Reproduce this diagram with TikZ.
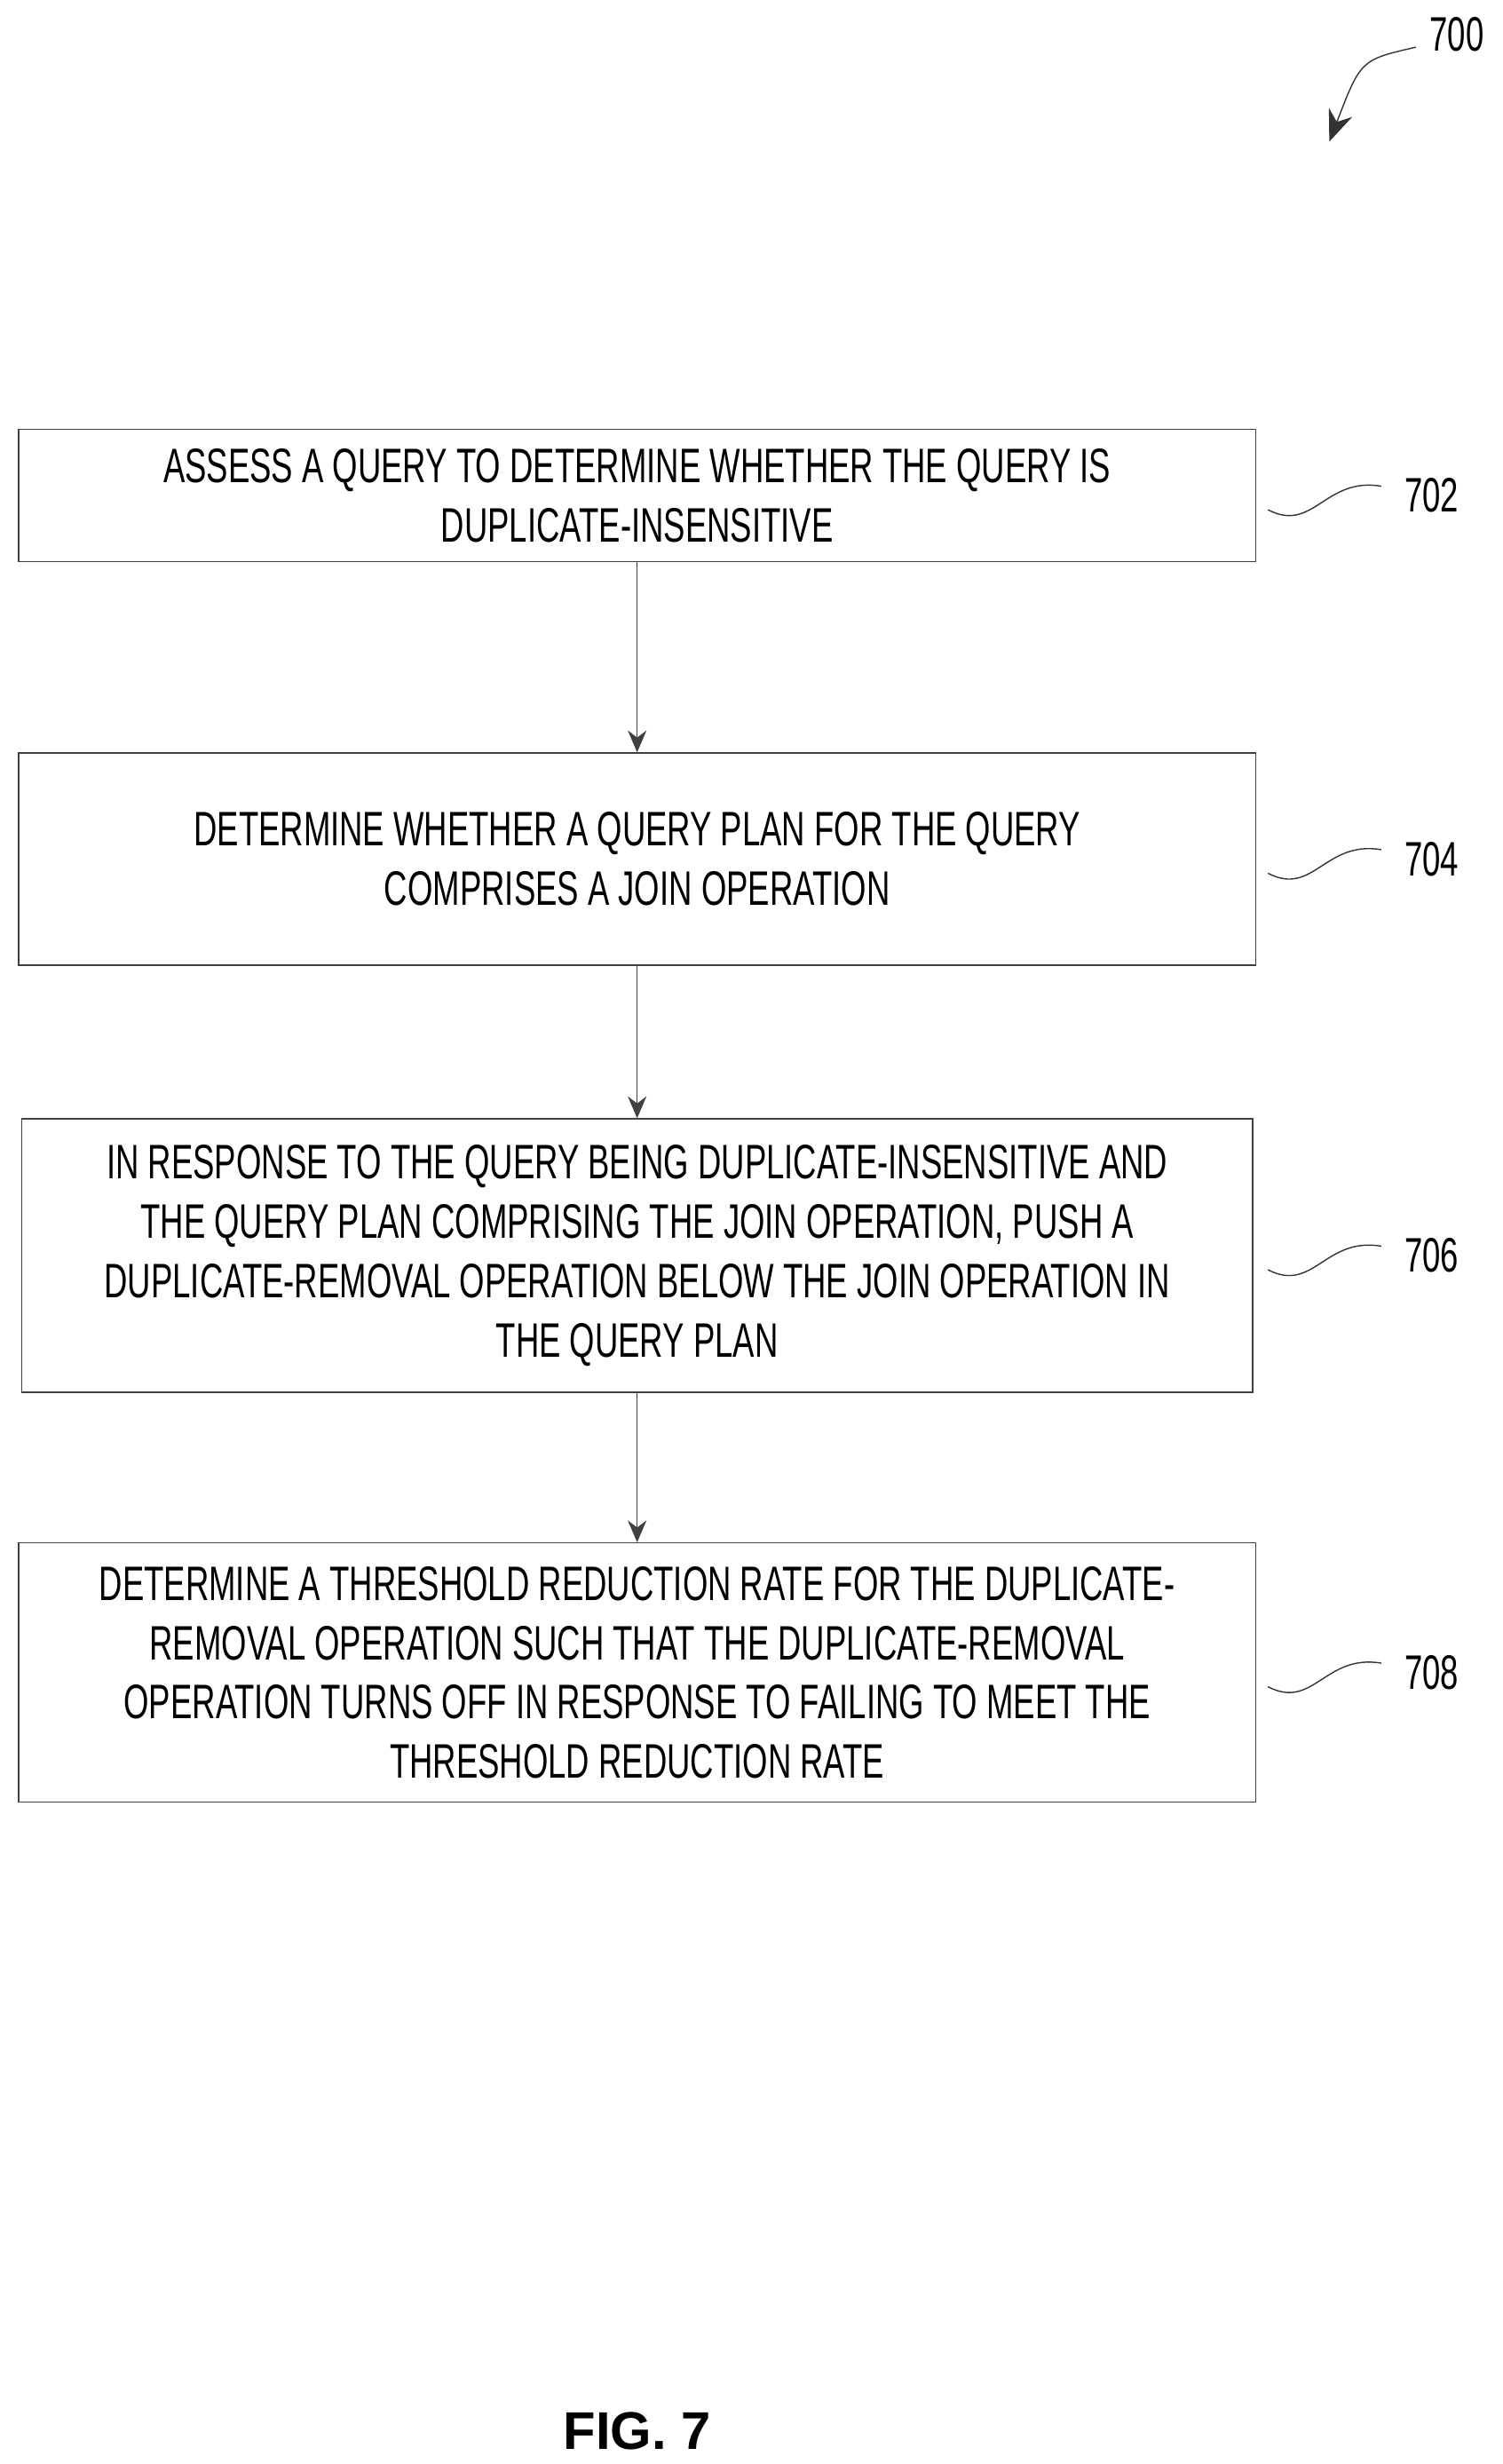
\documentclass[tikz,border=0pt]{standalone}
\usepackage{fontspec}
\setmainfont{Liberation Sans}[FakeStretch=0.67]
\newfontfamily\figfont{Liberation Sans}
\usetikzlibrary{positioning,arrows.meta}
\begin{document}
\begin{tikzpicture}[x=0.01772cm, y=-0.01772cm,
    box/.style = {draw=black!75, thin, minimum width=13.93cm,
                   align=center, font=\fontsize{15.5}{19}\selectfont, inner sep=0pt},
    arrow/.style = {draw=black!75, thin, -{Stealth[length=7pt,width=6pt]}},
    ref/.style = {font=\fontsize{15.5}{18}\selectfont},
    squig/.style = {draw=black!80, thin}]
    \useasboundingbox (0,0) rectangle (955,1566);
    \node[box, minimum height=1.49cm] (s702) at (405,315)
        {ASSESS A QUERY TO DETERMINE WHETHER THE QUERY IS\\DUPLICATE-INSENSITIVE};
    \node[box, minimum height=2.39cm] (s704) at (405,546)
        {DETERMINE WHETHER A QUERY PLAN FOR THE QUERY\\COMPRISES A JOIN OPERATION};
    \node[box, minimum width=13.86cm, minimum height=3.08cm] (s706) at (405,798)
        {IN RESPONSE TO THE QUERY BEING DUPLICATE-INSENSITIVE AND\\THE QUERY PLAN COMPRISING THE JOIN OPERATION, PUSH A\\DUPLICATE-REMOVAL OPERATION BELOW THE JOIN OPERATION IN\\THE QUERY PLAN};
    \node[box, minimum height=2.92cm] (s708) at (405,1063)
        {DETERMINE A THRESHOLD REDUCTION RATE FOR THE DUPLICATE-\\REMOVAL OPERATION SUCH THAT THE DUPLICATE-REMOVAL\\OPERATION TURNS OFF IN RESPONSE TO FAILING TO MEET THE\\THRESHOLD REDUCTION RATE};
    \draw[arrow] (s702) -- (s704);
    \draw[arrow] (s704) -- (s706);
    \draw[arrow] (s706) -- (s708);
    % reference numerals
    \foreach \n/\y in {702/315, 704/546, 706/798, 708/1063} {
        \node[ref] (l\n) at (910,\y) {\n};
        \draw[squig] (806,\y+9) .. controls (835,\y+24) and (842,\y-12) .. (878,\y-6);
    }
    \node[ref] (l700) at (926,22) {700};
    \coordinate (a700) at (845,90);
    \draw[thin, draw=black!80, -{Stealth[length=10pt,width=8pt]}]
        (900,30) .. controls (865,38) .. (a700);
    \node[font=\figfont\bfseries\fontsize{17}{20}\selectfont] (fig) at (405,1545) {FIG. 7};
\end{tikzpicture}
\end{document}
